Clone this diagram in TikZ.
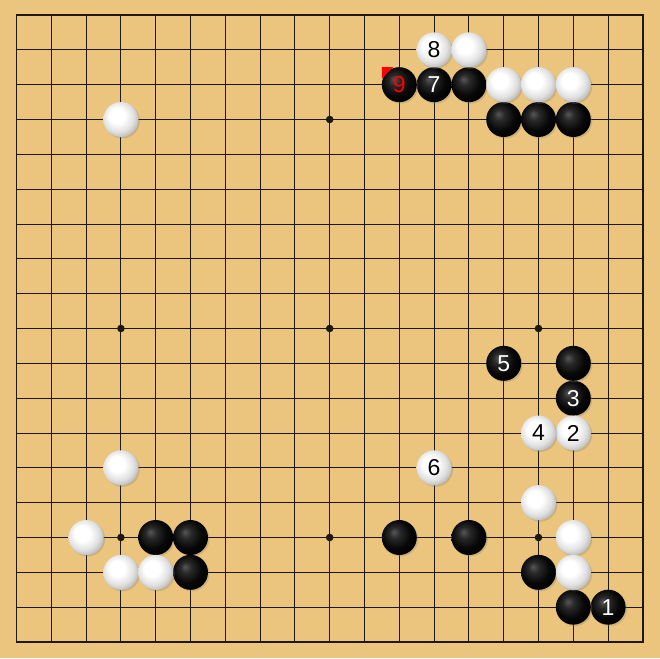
\documentclass[tikz,border=0pt]{standalone}
\usepackage{fontspec}
\newfontfamily\stonefont{Liberation Sans}
\usetikzlibrary{shadows,calc}
\definecolor{wood}{RGB}{235,197,125}
\definecolor{gridc}{RGB}{30,24,15}
\pgfdeclareradialshading{blackstone}{\pgfpoint{-8bp}{8bp}}{color(0bp)=(black!66); color(8bp)=(black!84); color(20bp)=(black!97); color(30bp)=(black); color(50bp)=(black)}
\pgfdeclareradialshading{whitestone}{\pgfpoint{-7bp}{7bp}}{color(0bp)=(white); color(11bp)=(white); color(22bp)=(black!12); color(32bp)=(black!33); color(50bp)=(black!33)}
\tikzset{
  gridline/.style={draw=gridc, line width=0.85pt},
  border/.style={draw=gridc, line width=1.8pt},
  stone/.style={circle, minimum size=35pt, inner sep=0pt,
    font=\stonefont\fontsize{23}{23}\selectfont,
    drop shadow={opacity=0.3, shadow xshift=1.5pt, shadow yshift=-1.5pt}},
  bstone/.style={stone, shading=blackstone, text=white},
  wstone/.style={stone, shading=whitestone, text=black},
  lastmark/.style={fill=red}
}
\begin{document}
\begin{tikzpicture}[x=1pt,y=-1pt]
\fill[wood] (0,0) rectangle (660,658);
\useasboundingbox (0,0) rectangle (660,658);
\foreach \i in {1,...,17} {
  \draw[gridline] ({16.5+34.8*\i},15) -- ({16.5+34.8*\i},642);
  \draw[gridline] (16.5,{15+34.833*\i}) -- (643,{15+34.833*\i});
}
\draw[border] (16.5,15) rectangle (643,642);
\foreach \c in {3,9,15} \foreach \r in {3,9,15}
  \fill[gridc] ({16.5+34.8*\c},{15+34.833*\r}) circle (3.8);
% black stones
\foreach \nm/\c/\r/\t in {b1/17/17/1, b3/16/11/3, b5/14/10/5, b7/12/2/7,
  ba/13/2/, bb/14/3/, bc/15/3/, bd/16/3/, be/16/10/, bf/11/15/, bg/13/15/,
  bh/15/16/, bi/16/17/, bj/4/15/, bk/5/15/, bl/5/16/}
  \node[bstone] (\nm) at ({16.5+34.8*\c},{15+34.833*\r}) {\t};
\node[bstone, text=red] (b9) at ({16.5+34.8*11},{15+34.833*2}) {9};
% white stones
\foreach \nm/\c/\r/\t in {w2/16/12/2, w4/15/12/4, w6/12/13/6, w8/12/1/8,
  wa/13/1/, wb/14/2/, wc/15/2/, wd/16/2/, we/3/3/, wf/3/13/, wg/15/14/,
  wh/16/15/, wi/16/16/, wj/2/15/, wk/3/16/, wl/4/16/}
  \node[wstone] (\nm) at ({16.5+34.8*\c},{15+34.833*\r}) {\t};
\fill[lastmark] ($(b9.center)+(-17.5,-17.5)$) -- ($(b9.center)+(-6,-17.5)$) -- ($(b9.center)+(-17.5,-6)$) -- cycle;
\end{tikzpicture}
\end{document}
